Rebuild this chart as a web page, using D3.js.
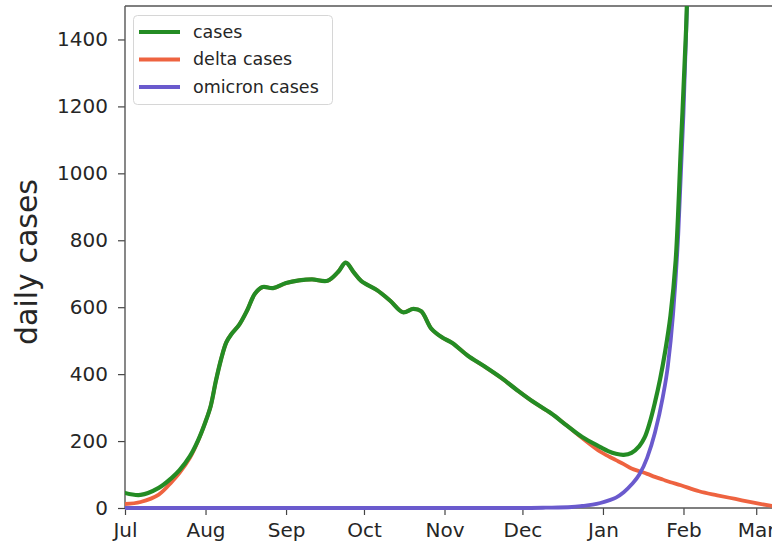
<!DOCTYPE html>
<html>
<head>
<meta charset="utf-8">
<script src="https://cdn.jsdelivr.net/npm/d3@7/dist/d3.min.js"></script>
<style>
  html, body { margin: 0; padding: 0; background: #fff; }
  svg { display: block; font-family: "DejaVu Sans", sans-serif; }
</style>
</head>
<body>
<svg id="chart" width="772" height="543"></svg>
<script>
// ---------- data ----------
const caseDates = ["2021-07-01","2021-07-07","2021-07-14","2021-07-19","2021-07-22","2021-07-26","2021-07-29",
  "2021-08-01","2021-08-03","2021-08-05","2021-08-07","2021-08-09","2021-08-11","2021-08-14","2021-08-17","2021-08-20","2021-08-23","2021-08-27",
  "2021-09-01","2021-09-06","2021-09-11","2021-09-17","2021-09-21","2021-09-24","2021-09-27","2021-09-30",
  "2021-10-06","2021-10-11","2021-10-16","2021-10-20","2021-10-23","2021-10-27","2021-10-31",
  "2021-11-04","2021-11-10","2021-11-16","2021-11-23","2021-11-29",
  "2021-12-05","2021-12-12","2021-12-18","2021-12-24","2021-12-31",
  "2022-01-03","2022-01-06","2022-01-09","2022-01-12","2022-01-15","2022-01-17","2022-01-19","2022-01-21","2022-01-23","2022-01-25","2022-01-27","2022-01-29","2022-01-31",
  "2022-02-02","2022-02-04"];
const caseValues = [45,39,60,90,113,155,200,
  258,305,380,445,495,520,548,590,640,660,657,
  672,680,683,679,705,733,705,678,
  651,620,585,595,588,535,510,
  493,455,425,388,352,
  318,283,247,212,182,
  170,162,159,165,185,210,255,315,385,470,575,740,1080,
  1430,1950];

const deltaDates = ["2021-07-01","2021-07-07","2021-07-14","2021-07-19","2021-07-22","2021-07-26","2021-07-29",
  "2021-08-01","2021-08-03","2021-08-05","2021-08-07","2021-08-09","2021-08-11","2021-08-14","2021-08-17","2021-08-20","2021-08-23","2021-08-27",
  "2021-09-01","2021-09-06","2021-09-11","2021-09-17","2021-09-21","2021-09-24","2021-09-27","2021-09-30",
  "2021-10-06","2021-10-11","2021-10-16","2021-10-20","2021-10-23","2021-10-27","2021-10-31",
  "2021-11-04","2021-11-10","2021-11-16","2021-11-23","2021-11-29",
  "2021-12-05","2021-12-12","2021-12-18","2021-12-24","2021-12-31",
  "2022-01-03","2022-01-06","2022-01-09","2022-01-12","2022-01-15","2022-01-18","2022-01-21","2022-01-24","2022-01-27","2022-01-31",
  "2022-02-07","2022-02-14","2022-02-21","2022-02-28","2022-03-07","2022-03-10"];
const deltaValues = [12,18,40,78,105,150,198,
  258,305,380,445,495,520,548,590,640,660,657,
  672,680,683,679,705,733,705,678,
  651,620,585,595,588,535,510,
  493,455,425,388,352,
  318,283,247,209,168,
  155,143,131,118,110,102,93,85,77,68,
  50,38,27,16,6,2];

const omicronDates = ["2021-07-01","2021-09-01","2021-11-01","2021-12-01","2021-12-10","2021-12-20","2021-12-24","2021-12-28","2021-12-31",
  "2022-01-03","2022-01-06","2022-01-09","2022-01-12","2022-01-15","2022-01-18","2022-01-21","2022-01-24","2022-01-26","2022-01-28","2022-01-30",
  "2022-02-01","2022-02-03","2022-02-05"];
const omicronValues = [0,0,0,0,1,3,6,10,15,
  22,31,47,70,100,150,225,330,425,580,820,
  1180,1650,2250];

const seriesNames = ["cases","delta cases","omicron cases"];
const seriesColors = ["#248c24","#ee6340","#6a5acd"];

const monthTicks = ["2021-07-01","2021-08-01","2021-09-01","2021-10-01","2021-11-01","2021-12-01","2022-01-01","2022-02-01","2022-03-01"];
const yTicks = [0,200,400,600,800,1000,1200,1400];
const yLabel = "daily cases";

// ---------- drawing ----------
const parse = d3.timeParse("%Y-%m-%d");
const svg = d3.select("#chart");
const mLeft = 125, mTop = 6, mBottom = 508, mRight = 777;
const xStart = parse("2021-07-01"), xEnd = parse("2022-03-09");

const x = d3.scaleTime().domain([xStart, xEnd]).range([mLeft, mRight]);
const y = d3.scaleLinear().domain([0, 1500]).range([mBottom, mTop]);

svg.append("defs").append("clipPath").attr("id","clip")
  .append("rect").attr("x", mLeft).attr("y", mTop).attr("width", mRight - mLeft).attr("height", mBottom - mTop + 6);

const toPts = (dates, vals) => dates.map((d,i) => [parse(d), vals[i]]);
const series = [
  toPts(caseDates, caseValues),
  toPts(deltaDates, deltaValues),
  toPts(omicronDates, omicronValues)
];

const smoothLine = d3.line().x(d => x(d[0])).y(d => y(d[1])).curve(d3.curveCatmullRom.alpha(0.5));
const monoLine = d3.line().x(d => x(d[0])).y(d => y(d[1])).curve(d3.curveMonotoneX);

// axes
const xAxis = d3.axisBottom(x).tickValues(monthTicks.map(parse)).tickFormat(d3.timeFormat("%b")).tickSize(7).tickPadding(8);
const yAxis = d3.axisLeft(y).tickValues(yTicks).tickFormat(d3.format("d")).tickSize(7).tickPadding(10);

const gx = svg.append("g").attr("transform", `translate(0,${mBottom})`).call(xAxis);
const gy = svg.append("g").attr("transform", `translate(${mLeft},0)`).call(yAxis);
[gx, gy].forEach(g => {
  g.select(".domain").remove();
  g.selectAll(".tick line").attr("stroke", "#444").attr("stroke-width", 1.2);
  g.selectAll(".tick text").attr("fill", "#262626").style("font-size", "20px").style("font-family", "DejaVu Sans");
});

// spines
const spine = svg.append("g").attr("stroke", "#555").attr("stroke-width", 1.4).attr("fill", "none");
spine.append("line").attr("x1", mLeft).attr("x2", mRight).attr("y1", mTop).attr("y2", mTop);
spine.append("line").attr("x1", mLeft).attr("x2", mRight).attr("y1", mBottom).attr("y2", mBottom);
spine.append("line").attr("x1", mLeft).attr("x2", mLeft).attr("y1", mTop).attr("y2", mBottom);

// lines: delta, omicron, then cases on top
const gl = svg.append("g").attr("clip-path", "url(#clip)");
[1,2,0].forEach(i => {
  gl.append("path").datum(series[i])
    .attr("fill", "none")
    .attr("stroke", seriesColors[i])
    .attr("stroke-width", i === 0 ? 4.2 : 3.8)
    .attr("stroke-linejoin", "round")
    .attr("stroke-linecap", "round")
    .attr("d", i === 2 ? monoLine : smoothLine);
});

// y label
svg.append("text")
  .attr("transform", `translate(37,262) rotate(-90)`)
  .attr("text-anchor", "middle")
  .attr("fill", "#262626")
  .style("font-size", "30px")
  .text(yLabel);

// legend
const lg = svg.append("g");
lg.append("rect").attr("x", 133.5).attr("y", 15.5).attr("width", 199).attr("height", 89)
  .attr("rx", 4).attr("fill", "#fff").attr("fill-opacity", 0.85)
  .attr("stroke", "#d6d6d6").attr("stroke-width", 1);
seriesNames.forEach((name, i) => {
  const yy = 32 + i * 27.5;
  lg.append("line").attr("x1", 139).attr("x2", 180).attr("y1", yy).attr("y2", yy)
    .attr("stroke", seriesColors[i]).attr("stroke-width", 4);
  lg.append("text").attr("x", 193).attr("y", yy).attr("dy", "0.32em")
    .attr("fill", "#262626").style("font-size", "17.5px").text(name);
});
</script>
</body>
</html>
